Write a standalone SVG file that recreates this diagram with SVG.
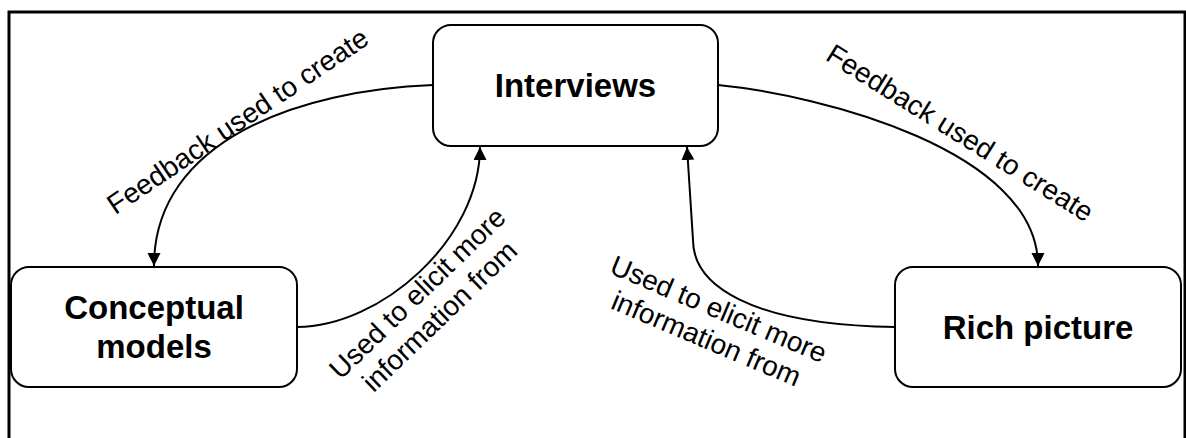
<svg xmlns="http://www.w3.org/2000/svg" width="1186" height="438" viewBox="0 0 1186 438">
  <style>
    .frame { fill: none; stroke: #000; stroke-width: 3; }
    .box { fill: #fff; stroke: #000; stroke-width: 2; }
    .title { font-family: "Liberation Sans", Arial, sans-serif; font-size: 33px; font-weight: bold; fill: #000; text-anchor: middle; }
    .link { fill: none; stroke: #000; stroke-width: 2; marker-end: url(#arrow); }
    .label { font-family: "Liberation Sans", Arial, sans-serif; font-size: 28px; fill: #000; text-anchor: middle; }
  </style>
  <defs>
    <marker id="arrow" markerUnits="userSpaceOnUse" markerWidth="14" markerHeight="14" refX="13" refY="6.5" orient="auto">
      <path d="M0,0 L13,6.5 L0,13 Z" fill="#000"/>
    </marker>
  </defs>

  <rect width="1186" height="438" fill="#fff"/>
  <!-- outer frame, open at the bottom edge -->
  <path class="frame" d="M9,442 V12 H1185 V442"/>

  <!-- connectors -->
  <g id="connectors">
    <path class="link" d="M433,85 C300,90 154,140 154,266"/>
    <path class="link" d="M297,327 C380,327 480,240 480,147"/>
    <path class="link" d="M718,85 C820,95 1038,150 1038,266"/>
    <path class="link" d="M895,327 C750,325 693,285 693,240 L687,147"/>
  </g>

  <!-- connector labels -->
  <g id="labels">
    <text class="label" transform="translate(243,129) rotate(-34)">Feedback used to create</text>
    <text class="label" transform="translate(955,141) rotate(32)">Feedback used to create</text>
    <g transform="translate(424,300) rotate(-44)">
      <text class="label" x="0" y="0">Used to elicit more</text>
      <text class="label" x="0" y="32">information from</text>
    </g>
    <g transform="translate(715,318) rotate(23)">
      <text class="label" x="0" y="0">Used to elicit more</text>
      <text class="label" x="0" y="32">information from</text>
    </g>
  </g>

  <!-- nodes -->
  <g id="interviews">
    <rect class="box" x="433" y="25" width="285" height="121" rx="18" ry="18"/>
    <text class="title" x="575.5" y="97">Interviews</text>
  </g>
  <g id="conceptual-models">
    <rect class="box" x="11" y="267" width="286" height="120" rx="18" ry="18"/>
    <text class="title" x="154" y="319">Conceptual</text>
    <text class="title" x="154" y="358">models</text>
  </g>
  <g id="rich-picture">
    <rect class="box" x="895" y="267" width="286" height="120" rx="18" ry="18"/>
    <text class="title" x="1038" y="339">Rich picture</text>
  </g>
</svg>
